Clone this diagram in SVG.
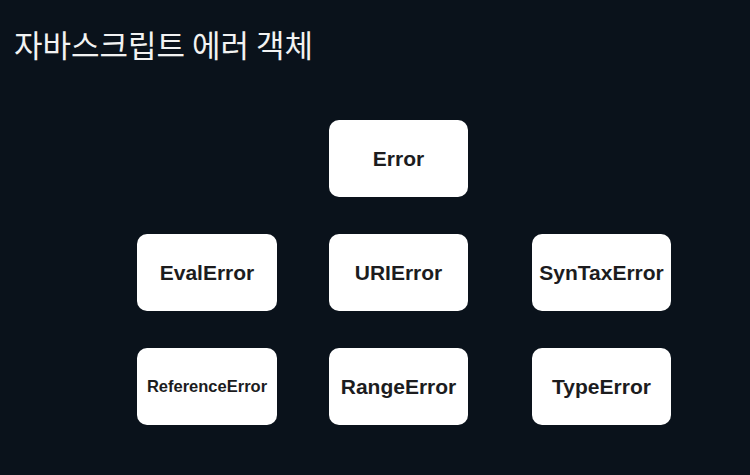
<svg xmlns="http://www.w3.org/2000/svg" width="750" height="475" viewBox="0 0 750 475">
<style>
.bg{fill:#0a121b}
.box{fill:#ffffff}
.lbl{font-family:"Liberation Sans",Arial,sans-serif;font-weight:bold;font-size:21px;fill:#1c1c1e;text-anchor:middle}
.title{font-family:"Noto Sans CJK KR","Noto Sans",sans-serif;font-size:31px;fill:#f2f2f2}
</style>
<rect class="bg" x="0" y="0" width="750" height="475"/>
<text class="title" x="14" y="57">자바스크립트 에러 객체</text>
<g id="connectors"></g>
<g id="error"><rect class="box" x="329" y="120" width="139" height="77" rx="10"/><text class="lbl" x="398.5" y="166">Error</text></g>
<g id="evalerror"><rect class="box" x="137" y="234" width="140" height="77" rx="10"/><text class="lbl" x="207" y="280">EvalError</text></g>
<g id="urierror"><rect class="box" x="329" y="234" width="139" height="77" rx="10"/><text class="lbl" x="398.5" y="280">URIError</text></g>
<g id="syntaxerror"><rect class="box" x="532" y="234" width="139" height="77" rx="10"/><text class="lbl" x="601.5" y="280">SynTaxError</text></g>
<g id="referenceerror"><rect class="box" x="137" y="348" width="140" height="77" rx="10"/><text class="lbl" x="207" y="392" style="font-size:16.5px">ReferenceError</text></g>
<g id="rangeerror"><rect class="box" x="329" y="348" width="139" height="77" rx="10"/><text class="lbl" x="398.5" y="394">RangeError</text></g>
<g id="typeerror"><rect class="box" x="532" y="348" width="139" height="77" rx="10"/><text class="lbl" x="601.5" y="394">TypeError</text></g>
</svg>
